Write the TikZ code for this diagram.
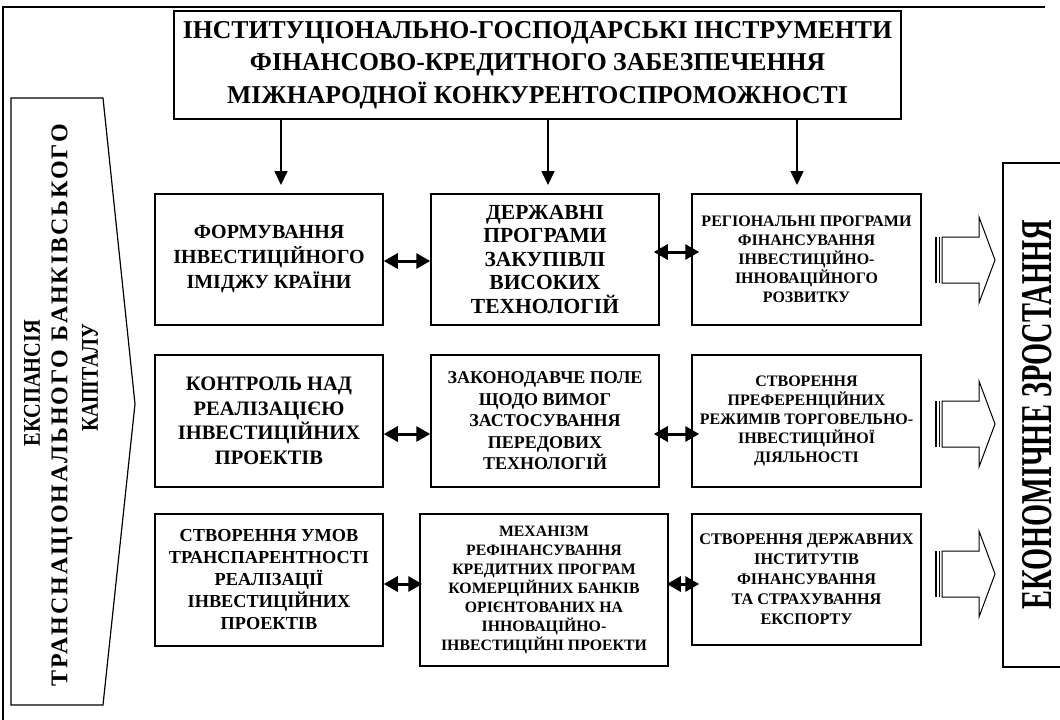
\documentclass[tikz,border=0pt]{standalone}
\usepackage{fontspec}
\setmainfont{Liberation Serif}
\usetikzlibrary{arrows.meta,calc}
\begin{document}
\begin{tikzpicture}[x=1pt,y=-1pt,
  box/.style={draw,line width=1.5pt,align=center,inner sep=0pt},
  downarr/.style={-{Triangle[width=13pt,length=14pt]},line width=1.6pt},
  dbl/.style={{Triangle[width=15pt,length=14pt]}-{Triangle[width=15pt,length=14pt]},line width=3pt},
  blk/.style={draw,line width=1pt,fill=white},
  sidetxt/.style={rotate=90,inner sep=0pt,font=\bfseries\fontsize{24}{28}\selectfont}]
\useasboundingbox (0,0) rectangle (1060,720);
% outer frame
\draw[line width=2.5pt] (1045,7) -- (3,7) -- (3,720);
% title
\node[box,minimum width=727pt,minimum height=108pt,font=\bfseries\fontsize{25.7}{32.5}\selectfont] (T) at (537.5,65)
  {ІНСТИТУЦІОНАЛЬНО-ГОСПОДАРСЬКІ ІНСТРУМЕНТИ\\ФІНАНСОВО-КРЕДИТНОГО ЗАБЕЗПЕЧЕННЯ\\МІЖНАРОДНОЇ КОНКУРЕНТОСПРОМОЖНОСТІ};
% left arrow shape
\draw[line width=1.2pt] (11,98) -- (103,98) -- (135,404) -- (103,705) -- (11,705) -- cycle;
\node[sidetxt] (L1) at (32,383) {\scalebox{0.85}[1]{ЕКСПАНСІЯ}};
\node[sidetxt] (L2) at (62,405) {\addfontfeature{LetterSpace=8}ТРАНСНАЦІОНАЛЬНОГО БАНКІВСЬКОГО};
\node[sidetxt] (L3) at (90,378) {\scalebox{0.83}[1]{КАПІТАЛУ}};
% right box
\node[draw,line width=1.5pt,minimum width=59pt,minimum height=504pt,inner sep=0pt] (R) at (1032.5,415) {};
\node[rotate=90,inner sep=0pt,font=\bfseries\fontsize{44}{48}\selectfont] (Rt) at (1037,415) {\scalebox{0.645}[1]{ЕКОНОМІЧНЕ ЗРОСТАННЯ}};
% row 1
\node[box,minimum width=228pt,minimum height=131pt,font=\bfseries\fontsize{20}{25}\selectfont] (A) at (269,259.5)
  {ФОРМУВАННЯ\\ІНВЕСТИЦІЙНОГО\\ІМІДЖУ КРАЇНИ};
\node[box,minimum width=228pt,minimum height=131pt,font=\bfseries\fontsize{21.5}{23.5}\selectfont] (B) at (545,259.5)
  {ДЕРЖАВНІ\\ПРОГРАМИ\\ЗАКУПІВЛІ\\ВИСОКИХ\\ТЕХНОЛОГІЙ};
\node[box,minimum width=229pt,minimum height=131pt,font=\bfseries\fontsize{16}{19}\selectfont] (C) at (806.5,259.5)
  {РЕГІОНАЛЬНІ ПРОГРАМИ\\ФІНАНСУВАННЯ\\ІНВЕСТИЦІЙНО-\\ІННОВАЦІЙНОГО\\РОЗВИТКУ};
% row 2
\node[box,minimum width=228pt,minimum height=132pt,font=\bfseries\fontsize{20.5}{24.5}\selectfont] (D) at (269,421)
  {КОНТРОЛЬ НАД\\РЕАЛІЗАЦІЄЮ\\ІНВЕСТИЦІЙНИХ\\ПРОЕКТІВ};
\node[box,minimum width=228pt,minimum height=132pt,font=\bfseries\fontsize{18}{21.5}\selectfont] (E) at (545,421)
  {ЗАКОНОДАВЧЕ ПОЛЕ\\ЩОДО ВИМОГ\\ЗАСТОСУВАННЯ\\ПЕРЕДОВИХ\\ТЕХНОЛОГІЙ};
\node[box,minimum width=229pt,minimum height=132pt,font=\bfseries\fontsize{16}{19}\selectfont] (F) at (806.5,421)
  {СТВОРЕННЯ\\ПРЕФЕРЕНЦІЙНИХ\\РЕЖИМІВ ТОРГОВЕЛЬНО-\\ІНВЕСТИЦІЙНОЇ\\ДІЯЛЬНОСТІ};
% row 3
\node[box,minimum width=228pt,minimum height=132pt,font=\bfseries\fontsize{18.3}{22}\selectfont] (G) at (269,580)
  {СТВОРЕННЯ УМОВ\\ТРАНСПАРЕНТНОСТІ\\РЕАЛІЗАЦІЇ\\ІНВЕСТИЦІЙНИХ\\ПРОЕКТІВ};
\node[box,minimum width=248pt,minimum height=152pt,font=\bfseries\fontsize{15.8}{19}\selectfont] (H) at (544,590)
  {МЕХАНІЗМ\\РЕФІНАНСУВАННЯ\\КРЕДИТНИХ ПРОГРАМ\\КОМЕРЦІЙНИХ БАНКІВ\\ОРІЄНТОВАНИХ НА\\ІННОВАЦІЙНО-\\ІНВЕСТИЦІЙНІ ПРОЕКТИ};
\node[box,minimum width=229pt,minimum height=131pt,font=\bfseries\fontsize{16.2}{20}\selectfont] (I) at (806.5,579.5)
  {СТВОРЕННЯ ДЕРЖАВНИХ\\ІНСТИТУТІВ\\ФІНАНСУВАННЯ\\ТА СТРАХУВАННЯ\\ЕКСПОРТУ};
% down arrows
\coordinate (d1) at (281,185);
\coordinate (d2) at (548,185);
\coordinate (d3) at (797,185);
\draw[downarr] (T.south -| d1) -- (d1);
\draw[downarr] (T.south -| d2) -- (d2);
\draw[downarr] (T.south -| d3) -- (d3);
% double arrows
\coordinate (y1) at (0,261);
\coordinate (y2) at (0,252);
\coordinate (y3) at (0,434);
\coordinate (y4) at (0,584);
\draw[dbl] (A.east |- y1) -- (B.west |- y1);
\draw[dbl] ($(B.east |- y2)+(-6,0)$) -- ($(C.west |- y2)+(8,0)$);
\draw[dbl] (D.east |- y3) -- (E.west |- y3);
\draw[dbl] ($(E.east |- y3)+(-6,0)$) -- ($(F.west |- y3)+(8,0)$);
\draw[dbl] (G.east |- y4) -- ($(H.west |- y4)+(3,0)$);
\draw[dbl] ($(H.east |- y4)+(-2,0)$) -- ($(I.west |- y4)+(8,0)$);
% block arrows
\foreach \c in {260,424,574} {
  \draw[line width=1.6pt] (936,\c-23) -- (936,\c+23);
  \draw[line width=0.8pt] (939.5,\c-23) -- (939.5,\c+23);
  \draw[blk] (942,\c-23) -- (979,\c-23) -- (979,\c-43) -- (995,\c) -- (979,\c+43) -- (979,\c+23) -- (942,\c+23) -- cycle;
}
\end{tikzpicture}
\end{document}
